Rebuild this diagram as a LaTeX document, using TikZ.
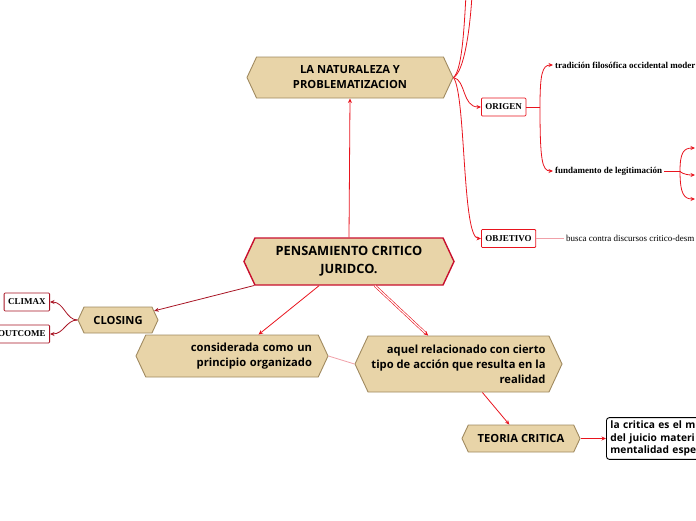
\documentclass[tikz,border=0pt]{standalone}
\usepackage{fontspec}
\setmainfont{Liberation Serif}
\newfontfamily\mapsans{Open Sans}
\usetikzlibrary{shapes.symbols,arrows.meta}

\definecolor{tanfill}{HTML}{E8D4A8}
\definecolor{tanborder}{HTML}{A08A60}
\definecolor{crimson}{HTML}{C8102E}
\definecolor{linered}{HTML}{E8141E}
\definecolor{darkred}{HTML}{A81424}
\definecolor{pinkline}{HTML}{F0A0A8}

\tikzset{
  topic/.style={signal, signal to=west and east, signal pointer angle=130,
    draw=tanborder, fill=tanfill, line width=0.9pt, inner sep=2pt, align=center,
    font=\mapsans\bfseries\fontsize{11.2}{15}\selectfont},
  main/.style={topic, draw=crimson, line width=1.4pt,
    font=\mapsans\bfseries\fontsize{12.8}{18}\selectfont},
  tag/.style={draw=darkred, fill=white, line width=0.8pt, rounded corners=1pt,
    minimum height=18, inner xsep=4pt, font=\bfseries\fontsize{9}{10}\selectfont},
  leaf/.style={tag, draw=linered},
  note/.style={inner sep=2pt, font=\bfseries\fontsize{9}{10}\selectfont},
  plain/.style={inner sep=2pt, font=\fontsize{9}{10}\selectfont},
  box/.style={draw=black, fill=white, line width=0.9pt, rounded corners=3pt,
    minimum height=41, text width=120, align=left, inner xsep=4pt,
    font=\mapsans\bfseries\fontsize{10.2}{12.5}\selectfont},
  redline/.style={draw=linered, line width=0.8pt},
  darkline/.style={draw=darkred, line width=0.8pt},
  faint/.style={draw=pinkline, line width=0.8pt}
}

\begin{document}
\begin{tikzpicture}[x=1pt,y=-1pt,>={Stealth[length=4.5pt,width=4pt]}]
\useasboundingbox (0,0) rectangle (696,520);

% main topics
\node[main, minimum width=210, minimum height=47] (pcj) at (349,261.5) {PENSAMIENTO CRITICO\\JURIDCO.};
\node[topic, minimum width=206, minimum height=41] (nat) at (350,77.5) {LA NATURALEZA Y\\PROBLEMATIZACION};
\node[topic, minimum width=80, minimum height=26] (clo) at (118,320) {CLOSING};
\node[topic, minimum width=192, minimum height=42, text width=160, align=right] (con) at (232,356) {considerada como un\\principio organizado};
\node[topic, minimum width=207, minimum height=56, align=right] (aq) at (458.5,364) {aquel relacionado con cierto\\tipo de acción que resulta en la\\realidad};
\node[topic, minimum width=118, minimum height=27] (teo) at (521,438.5) {TEORIA CRITICA};

% small boxes and texts
\node[tag, anchor=east] (cli) at (50,302) {CLIMAX};
\node[tag, anchor=east] (out) at (50,334) {OUTCOME};
\node[leaf, anchor=west] (ori) at (481,107) {ORIGEN};
\node[leaf, anchor=west] (obj) at (481,238.5) {OBJETIVO};
\node[note, anchor=west] (tra) at (553,65) {tradición filosófica occidental moder};
\node[note, anchor=west] (fun) at (553,171) {fundamento de legitimación};
\node[plain, anchor=west] (bus) at (564,238.5) {busca contra discursos critico-desm};
\node[box, anchor=west] (lac) at (606,438.5) {la critica es el m\\del juicio materi\\mentalidad espe};

% free ends
\coordinate (up1) at (466,-5);
\coordinate (up2) at (472,-5);
\coordinate (oj) at (540,107);
\coordinate (fj) at (680,171);
\coordinate (f1) at (695,148);
\coordinate (f2) at (695,175);
\coordinate (f3) at (695,199);

% connectors
\draw[redline,->] (pcj.north) -- (nat.south);
\draw[darkline,->] (pcj) -- (clo);
\draw[redline,->] (pcj) -- (con);
\draw[redline,double=white,double distance=1.2pt,line width=0.6pt,->] (pcj) -- (aq);
\draw[faint] (con.east) -- (aq.west);
\draw[redline,->] (aq) -- (teo);
\draw[redline,->] (teo.east) -- (lac.west);

\draw[darkline,->] (clo.west) .. controls (66,320) and (64,302) .. (cli.east);
\draw[darkline,->] (clo.west) .. controls (66,320) and (64,334) .. (out.east);

\draw[redline] (nat.east) .. controls (462,70) and (464,30) .. (up1);
\draw[redline] (nat.east) .. controls (464,72) and (470,30) .. (up2);
\draw[redline,->] (nat.east) .. controls (466,80) and (462,107) .. (ori.west);
\draw[redline,->] (nat.east) .. controls (466,95) and (462,238) .. (obj.west);

\draw[redline] (ori.east) -- (oj);
\draw[redline,->] (oj) .. controls (540,75) and (542,65) .. (tra.west);
\draw[redline,->] (oj) .. controls (540,160) and (542,171) .. (fun.west);
\draw[faint] (obj.east) -- (bus.west);

\draw[redline] (fun.east) -- (fj);
\draw[redline,->] (fj) .. controls (680,152) and (684,148) .. (f1);
\draw[redline,->] (fj) .. controls (680,172) and (684,175) .. (f2);
\draw[redline,->] (fj) .. controls (680,194) and (684,199) .. (f3);
\end{tikzpicture}
\end{document}
